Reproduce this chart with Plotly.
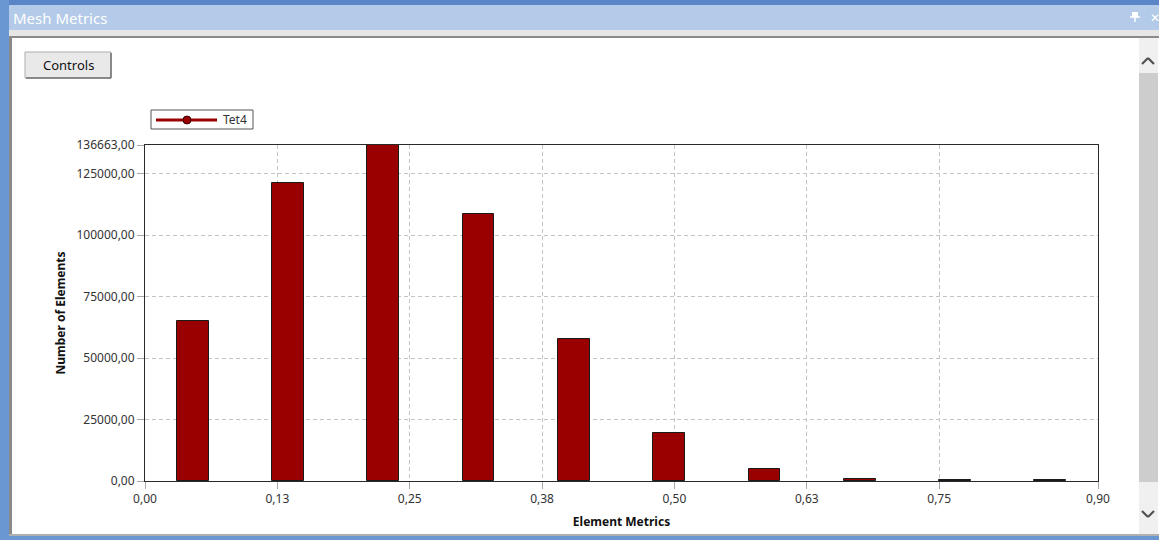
import plotly.graph_objects as go

# Histogram of tetrahedral element quality (bin centres, counts)
bin_centers = [0.045, 0.135, 0.225, 0.315, 0.405, 0.495, 0.585, 0.675, 0.765, 0.855]
element_counts = [65100, 121300, 136663, 108700, 57800, 19400, 4700, 900, 300, 250]
series_name = "Tet4"

x_tick_vals = [0.0, 0.125, 0.25, 0.375, 0.5, 0.625, 0.75, 0.9]
x_tick_text = ["0,00", "0,13", "0,25", "0,38", "0,50", "0,63", "0,75", "0,90"]
y_tick_vals = [0, 25000, 50000, 75000, 100000, 125000, 136663]
y_tick_text = [f"{v:.2f}".replace(".", ",") for v in y_tick_vals]

W, H = 1159, 540
# plot-area edges in pixels
L, R, T, B = 145, 1098, 145, 481

BAR = "#990000"
FONT = "Noto Sans"


def px(x):
    return (x - L) / (R - L)


def py(y):
    return (B - y) / (B - T)


def rect(x0, y0, x1, y1, fill, line=None, lw=0):
    return dict(type="rect", xref="paper", yref="paper",
                x0=px(x0), x1=px(x1), y0=py(y1), y1=py(y0),
                fillcolor=fill, line=dict(color=line or fill, width=lw),
                layer="above")


def seg(x0, y0, x1, y1, color, width):
    return dict(type="line", xref="paper", yref="paper",
                x0=px(x0), x1=px(x1), y0=py(y0), y1=py(y1),
                line=dict(color=color, width=width), layer="above")


def chevron(cx, cy, up, color="#505050"):
    d = -3 if up else 3
    return [seg(cx - 6, cy - d, cx, cy + d, color, 2.2),
            seg(cx, cy + d, cx + 6, cy - d, color, 2.2)]


fig = go.Figure()
fig.add_trace(go.Bar(
    x=bin_centers, y=element_counts, width=0.03, name=series_name,
    marker=dict(color=BAR, line=dict(color="#1a1a1a", width=1)),
    showlegend=False,
))

shapes = [
    # window frame and title bar
    rect(0, 0, W, 5, "#5a86c8"),
    rect(0, 5, W, 30, "#b3cae8"),
    rect(0, 0, 9, H, "#6a96d2"),
    rect(9, 30, W, 36, "#e6e6e6"),
    rect(9, 36, W, 38, "#8a8a8a"),
    rect(9, 36, 12, H - 4, "#8a8a8a"),
    rect(9, H - 6, W, H - 4, "#b0b0b0"),
    rect(0, H - 4, W, H, "#6a96d2"),
    # scrollbar
    rect(1139, 38, 1158, H - 6, "#f0f0f0"),
    rect(1139, 73, 1158, 482, "#cdcdcd"),
    # controls button
    rect(25, 52, 111, 78, "#e9e9e9", "#adadad", 1),
    seg(111, 53, 111, 78, "#707070", 1.5),
    seg(26, 78, 111, 78, "#707070", 1.5),
    # legend box
    rect(151, 110, 253, 129, "#ffffff", "#555555", 1),
    seg(156, 120, 217, 120, BAR, 3),
    dict(type="circle", xref="paper", yref="paper", x0=px(183), x1=px(191),
         y0=py(124), y1=py(116), fillcolor=BAR,
         line=dict(color="#3a0000", width=1), layer="above"),
    # pin icon in title bar
    rect(1132, 12, 1138, 17, "#ffffff"),
    seg(1130, 17, 1140, 17, "#ffffff", 1.5),
    seg(1135, 17, 1135, 22, "#ffffff", 1.5),
]
shapes += chevron(1148, 61, up=True)
shapes += chevron(1148, 514, up=False)

annotations = [
    dict(text="Mesh Metrics", x=px(11), y=py(18), xref="paper", yref="paper",
         xanchor="left", yanchor="middle", showarrow=False,
         font=dict(family=FONT, size=15, color="#ffffff")),
    dict(text="✕", x=px(1148), y=py(17), xref="paper", yref="paper",
         xanchor="left", yanchor="middle", showarrow=False,
         font=dict(family=FONT, size=12, color="#ffffff")),
    dict(text="Controls", x=px(68), y=py(65), xref="paper", yref="paper",
         xanchor="center", yanchor="middle", showarrow=False,
         font=dict(family=FONT, size=13, color="#111111")),
    dict(text=series_name, x=px(221), y=py(119), xref="paper", yref="paper",
         xanchor="left", yanchor="middle", showarrow=False,
         font=dict(family=FONT, size=12, color="#333333")),
]

axis_common = dict(
    showline=True, mirror=True, linecolor="#2a2a2a", linewidth=1,
    showgrid=True, gridcolor="#c4c4c4", gridwidth=1, griddash="4px,3px",
    ticks="outside", ticklen=7, tickcolor="#a8a8a8", tickwidth=1,
    tickfont=dict(family=FONT, size=12, color="#333333"),
    zeroline=False, automargin=False,
)

fig.update_layout(
    width=W, height=H,
    margin=dict(l=L, r=W - R, t=T, b=H - B, pad=0),
    paper_bgcolor="#ffffff", plot_bgcolor="#ffffff",
    font=dict(family=FONT),
    bargap=0,
    xaxis=dict(
        range=[0, 0.9], tickmode="array", tickvals=x_tick_vals, ticktext=x_tick_text,
        title=dict(text="<b>Element Metrics</b>", standoff=11,
                   font=dict(family=FONT, size=12, color="#111111")),
        **axis_common,
    ),
    yaxis=dict(
        range=[0, 136663], tickmode="array", tickvals=y_tick_vals, ticktext=y_tick_text,
        title=dict(text="<b>Number of Elements</b>", standoff=8,
                   font=dict(family=FONT, size=12, color="#111111")),
        **axis_common,
    ),
    shapes=shapes,
    annotations=annotations,
    showlegend=False,
)

fig.write_html("out.html")
